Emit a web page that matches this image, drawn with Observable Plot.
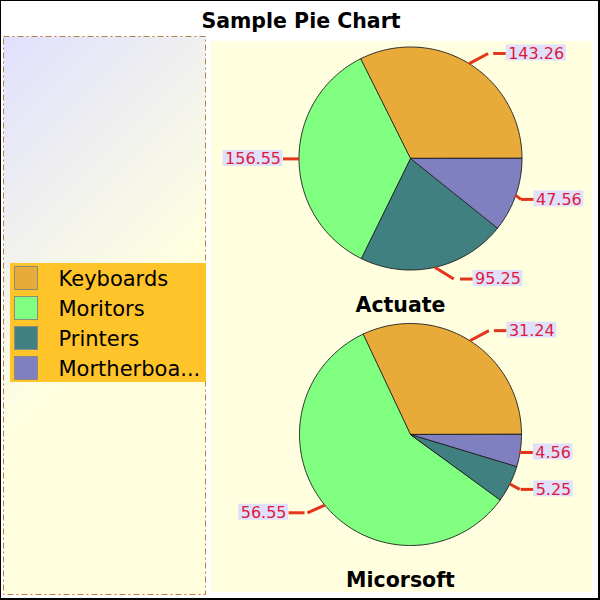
<!DOCTYPE html>
<html><head><meta charset="utf-8">
<script src="https://cdn.jsdelivr.net/npm/d3@7"></script>
<script src="https://cdn.jsdelivr.net/npm/@observablehq/plot@0.6"></script>
<style>
html,body{margin:0;padding:0;background:#fff;}
#chart{position:relative;width:600px;height:600px;overflow:hidden;}
#chart svg{position:absolute;left:0;top:0;}
#frame{position:absolute;left:0;top:0;width:600px;height:600px;box-sizing:border-box;border-top:1px solid #000;border-left:1px solid #000;border-right:2px solid #000;border-bottom:2px solid #000;pointer-events:none;}
</style></head><body>
<div id="chart"></div>
<script>
// ---- data ----
const title = "Sample Pie Chart";
const categories = ["Keyboards", "Moritors", "Printers", "Mortherboards"];
const seriesNames = ["Actuate", "Micorsoft"];
const actuateValues = [143.26, 156.55, 95.25, 47.56];
const micorsoftValues = [31.24, 56.55, 5.25, 4.56];
const seriesValues = [actuateValues, micorsoftValues];

// ---- style / layout ----
const colors = ["#E8AB3A", "#80FF80", "#408080", "#8080C0"];
const pieCenters = [[410, 158], [410, 434]];
const pieRadius = [111.5, 111];
const pieTitleY = [304.5, 580];
const plotArea = {x1: 211, x2: 592, y1: 41, y2: 592};
const panel = {x1: 3.5, x2: 205.5, y1: 36.5, y2: 594.5};
const legendBox = {x1: 10, x2: 206, y1: 263, y2: 382};
const labelSize = 16;
const labelFont = labelSize + "px 'DejaVu Sans'";

const ctx = document.createElement("canvas").getContext("2d");
ctx.font = labelFont;

const clamp = (v, a, b) => Math.max(a, Math.min(b, v));

// slice polygons and labels
const slicePts = [];
const labels = [];
seriesNames.forEach((name, si) => {
  const vals = seriesValues[si];
  const [cx, cy] = pieCenters[si];
  const r = pieRadius[si];
  const arcs = d3.pie().sort(null)(vals);
  arcs.forEach((a, k) => {
    const id = name + "-" + categories[k];
    const a0 = a.startAngle, a1 = a.endAngle;
    slicePts.push({id, cat: categories[k], x: cx, y: cy});
    const n = Math.max(2, Math.ceil((a1 - a0) / (Math.PI / 180)));
    for (let j = 0; j <= n; j++) {
      const t = a0 + (a1 - a0) * j / n;
      slicePts.push({id, cat: categories[k], x: cx + r * Math.cos(t), y: cy - r * Math.sin(t)});
    }
    const m = (a0 + a1) / 2;
    const c = Math.cos(m), s = Math.sin(m);
    const side = c >= 0 ? 1 : -1;
    const as = Math.abs(s);
    const px = cx + r * c, py = cy - r * s;
    const ly = cy - (r + 12) * s;
    const qx = px + side * clamp(40 * (as - 0.2), 0, 19);
    const h1 = qx + side * clamp(10 * (as - 0.35), 0, 7);
    const h2 = h1 + side * (side > 0 ? 13 : 16);
    const text = vals[k].toFixed(2);
    const w = ctx.measureText(text).width;
    const bx1 = side > 0 ? h2 : h2 - w - 4;
    const bx2 = side > 0 ? h2 + w + 4 : h2;
    labels.push({text, side, px, py, qx, ly, h1, h2, bx1, bx2, by1: ly - 8.5, by2: ly + 7.5,
      tx: h2 + side * 2});
  });
});
const rightLabels = labels.filter(d => d.side > 0);
const leftLabels = labels.filter(d => d.side < 0);

const legendLabel = d => d.length > 12 ? d.slice(0, 10) + "..." : d;

const svg = Plot.plot({
  width: 600, height: 600, margin: 0,
  style: {background: "transparent", fontFamily: "'DejaVu Sans', sans-serif"},
  x: {domain: [0, 600], range: [0, 600], axis: null},
  y: {domain: [0, 600], range: [0, 600], axis: null},
  color: {domain: categories, range: colors},
  marks: [
    Plot.rect([plotArea], {x1: "x1", x2: "x2", y1: "y1", y2: "y2", fill: "#FFFFE0"}),
    Plot.rect([panel], {x1: "x1", x2: "x2", y1: "y1", y2: "y2", fill: "url(#panelGrad)",
      stroke: "#BF7F3F", strokeWidth: 1, strokeDasharray: "6,3,2,3"}),
    Plot.text([title], {x: 300.5, y: 20.5, text: d => d, fontSize: 20.5, fontWeight: "bold", fill: "#000"}),
    // legend
    Plot.rect([legendBox], {x1: "x1", x2: "x2", y1: "y1", y2: "y2", fill: "#FFC42A"}),
    Plot.rect(categories, {x1: 14.5, x2: 37.5, y1: (d, i) => 266.5 + 30 * i, y2: (d, i) => 289.5 + 30 * i,
      fill: d => d, stroke: "#8C8C7C", strokeWidth: 1}),
    Plot.text(categories, {x: 58, y: (d, i) => 279 + 30 * i, text: legendLabel, fontSize: 21,
      textAnchor: "start", fill: "#000"}),
    // pies
    Plot.line(slicePts, {x: "x", y: "y", z: "id", fill: "cat", stroke: "#1a1a1a", strokeWidth: 0.9,
      curve: "linear-closed", strokeLinejoin: "round"}),
    Plot.text(seriesNames, {x: 400, y: (d, i) => pieTitleY[i], text: d => d, fontSize: 20.5,
      fontWeight: "bold", fill: "#000"}),
    // leaders
    Plot.link(labels, {x1: "px", y1: "py", x2: "qx", y2: "ly", stroke: "#E3351B", strokeWidth: 3}),
    Plot.link(labels, {x1: "h1", y1: "ly", x2: "h2", y2: "ly", stroke: "#E3351B", strokeWidth: 3}),
    Plot.rect(labels, {x1: "bx1", x2: "bx2", y1: "by1", y2: "by2", fill: "#E0E0FA"}),
    Plot.text(rightLabels, {x: "tx", y: "ly", text: "text", textAnchor: "start", fontSize: labelSize,
      fill: "#DC1C3C"}),
    Plot.text(leftLabels, {x: "tx", y: "ly", text: "text", textAnchor: "end", fontSize: labelSize,
      fill: "#DC1C3C"})
  ]
});

const defs = d3.select(svg).insert("defs", ":first-child");
const g = defs.append("linearGradient").attr("id", "panelGrad")
  .attr("gradientUnits", "userSpaceOnUse")
  .attr("x1", 4).attr("y1", 37).attr("x2", 206).attr("y2", 239);
g.append("stop").attr("offset", 0).attr("stop-color", "#E0E0FF");
g.append("stop").attr("offset", 1).attr("stop-color", "#FFFFE0");

const chart = document.getElementById("chart");
chart.appendChild(svg);
const frame = document.createElement("div");
frame.id = "frame";
chart.appendChild(frame);
</script>
</body></html>
